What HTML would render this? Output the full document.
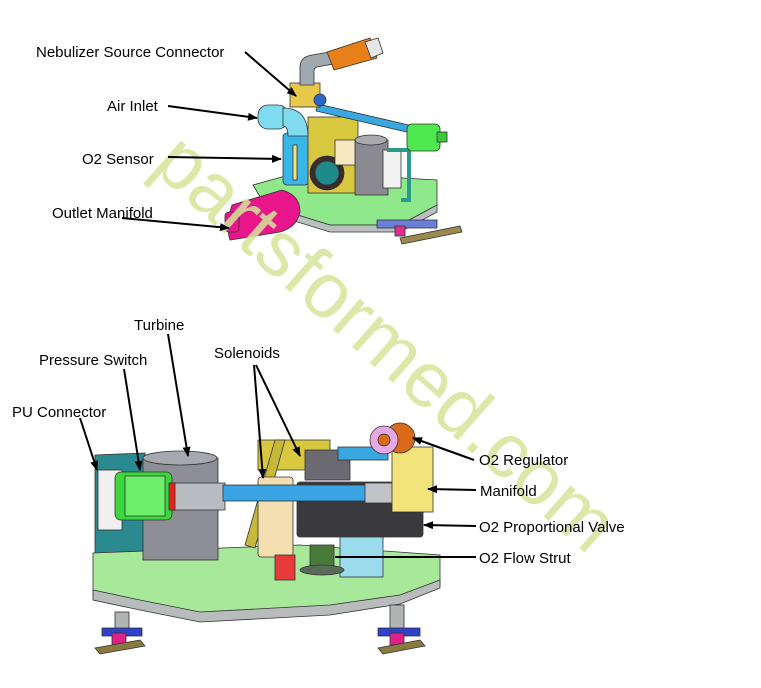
<!DOCTYPE html>
<html><head><meta charset="utf-8"><style>
html,body{margin:0;padding:0;background:#fff;width:761px;height:688px;overflow:hidden}
svg{display:block}
text{font-family:"Liberation Sans",Arial,sans-serif;font-size:15px;fill:#000}
</style></head><body>
<svg width="761" height="688" viewBox="0 0 761 688" xmlns="http://www.w3.org/2000/svg">
<defs>
<marker id="a" markerWidth="10" markerHeight="8" refX="9" refY="4" orient="auto" markerUnits="userSpaceOnUse">
<path d="M0,0 L10,4 L0,8 z" fill="#000"/></marker>
</defs>
<rect width="761" height="688" fill="#fff"/>

<!-- TOP ASSEMBLY -->
<g stroke="#333" stroke-width="0.8">
<polygon points="253,185 300,172 437,180 437,205 400,225 330,225 265,205" fill="#8fe88a"/>
<polygon points="265,205 330,225 400,225 437,205 437,212 400,232 330,232 265,212" fill="#b9c0c0"/>
<rect x="377" y="220" width="60" height="8" fill="#6b7fd8"/>
<rect x="395" y="226" width="10" height="10" fill="#e0308a"/>
<polygon points="400,238 460,226 462,232 402,244" fill="#9a8a50"/>
<rect x="283" y="133" width="26" height="52" rx="4" fill="#39b5e8"/>
<rect x="293" y="145" width="4" height="35" fill="#f3e37a"/>
<rect x="308" y="117" width="50" height="76" fill="#d8c840"/>
<circle cx="327" cy="173" r="17" fill="#3a2a2a"/>
<circle cx="327" cy="173" r="12" fill="#1f8a8a"/>
<rect x="355" y="140" width="33" height="55" fill="#8a8a90"/>
<ellipse cx="371" cy="140" rx="16" ry="5" fill="#aaaab0"/>
<rect x="383" y="150" width="18" height="38" fill="#f2f2f2"/>
<path d="M387,150 h22 v50 h-8" fill="none" stroke="#2a9a8a" stroke-width="4"/>
<rect x="335" y="140" width="20" height="25" fill="#f6e8c0"/>
<rect x="258" y="105" width="30" height="24" rx="10" fill="#7fdcf0"/>
<path d="M283,108 q25,0 25,28 l-20,0 q0,-10 -5,-10z" fill="#7fdcf0"/>
<polygon points="318,104 413,126 411,133 316,111" fill="#3aa8e0"/>
<rect x="407" y="124" width="33" height="27" rx="5" fill="#4fe84f"/>
<rect x="437" y="132" width="10" height="10" fill="#3cc83c"/>
<rect x="290" y="83" width="30" height="24" fill="#e8c84a"/>
<circle cx="320" cy="100" r="6" fill="#2a66c8"/>
<path d="M300,85 v-18 q0,-10 12,-12 l18,-3 l3,12 l-16,3 q-3,1 -3,4 v14z" fill="#a0a8b0"/>
<polygon points="327,52 370,38 377,58 334,70" fill="#e8801a"/>
<polygon points="365,42 378,38 383,53 371,58" fill="#e6e6e6"/>
<path d="M232,205 l50,-15 q18,5 18,22 q-3,15 -20,20 l-50,8 q-5,-15 2,-35z" fill="#e8168a"/>
<rect x="225" y="212" width="14" height="20" rx="4" fill="#e8168a"/>
</g>

<!-- BOTTOM ASSEMBLY -->
<g stroke="#333" stroke-width="0.8">
<polygon points="95,455 145,453 145,558 95,558" fill="#2a8a8f"/>
<rect x="98" y="470" width="24" height="60" fill="#f0f0f0"/>
<polygon points="93,553 300,545 440,555 440,585 400,600 330,610 200,617 140,605 93,595" fill="#a8e89a"/>
<polygon points="93,590 140,600 200,612 330,605 400,595 440,580 440,588 400,604 330,615 200,622 140,610 93,600" fill="#b8bcbc"/>
<rect x="143" y="458" width="75" height="102" fill="#8e8e96"/>
<ellipse cx="180" cy="458" rx="37" ry="7" fill="#a8a8b0"/>
<polygon points="258,440 330,440 330,470 258,470" fill="#d8c840"/>
<polygon points="245,545 275,440 285,440 255,548" fill="#c8b838"/>
<rect x="258" y="477" width="35" height="80" rx="3" fill="#f3dfb0"/>
<rect x="340" y="525" width="43" height="52" fill="#9adcec"/>
<rect x="310" y="545" width="24" height="22" fill="#4a7a3a"/>
<ellipse cx="322" cy="570" rx="22" ry="5" fill="#5a6a58"/>
<rect x="275" y="555" width="20" height="25" fill="#e83a3a"/>
<rect x="297" y="482" width="126" height="55" rx="3" fill="#3a3a3e"/>
<rect x="305" y="450" width="45" height="30" fill="#6a6a70"/>
<rect x="338" y="447" width="50" height="13" fill="#3aa8e0"/>
<rect x="115" y="472" width="57" height="48" rx="6" fill="#3ad83a"/>
<rect x="125" y="476" width="40" height="40" fill="#6cf06c"/>
<rect x="170" y="483" width="55" height="27" fill="#b8bcc0"/>
<rect x="169" y="483" width="6" height="27" fill="#e8201a"/>
<rect x="223" y="485" width="150" height="16" fill="#3aa4e4"/>
<rect x="365" y="483" width="30" height="20" fill="#c0c4c8"/>
<rect x="392" y="447" width="41" height="65" fill="#f2e47a"/>
<circle cx="400" cy="438" r="15" fill="#d86a1a"/>
<circle cx="384" cy="440" r="14" fill="#e8a8e8"/>
<circle cx="384" cy="440" r="6" fill="#d86a1a"/>
<rect x="115" y="612" width="14" height="18" fill="#b0b4b4"/>
<rect x="390" y="605" width="14" height="25" fill="#b0b4b4"/>
<rect x="102" y="628" width="40" height="8" fill="#3040c8"/>
<rect x="112" y="633" width="14" height="12" fill="#e0208a"/>
<polygon points="95,648 140,640 145,646 100,654" fill="#8a7a40"/>
<rect x="378" y="628" width="42" height="8" fill="#3040c8"/>
<rect x="390" y="633" width="14" height="12" fill="#e0208a"/>
<polygon points="378,648 420,640 425,646 383,654" fill="#8a7a40"/>
</g>

<!-- Watermark -->
<text transform="translate(150,168) rotate(41.5)" style="font-size:78px;fill:#d6e59a;opacity:0.85">partsformed.com</text>

<!-- Labels & arrows -->
<g stroke="#000" stroke-width="2" fill="none">
<line x1="245" y1="52" x2="296" y2="96" marker-end="url(#a)"/>
<line x1="168" y1="106" x2="257" y2="118" marker-end="url(#a)"/>
<line x1="168" y1="157" x2="281" y2="159" marker-end="url(#a)"/>
<line x1="122" y1="218" x2="229" y2="228" marker-end="url(#a)"/>
<line x1="168" y1="334" x2="188" y2="456" marker-end="url(#a)"/>
<line x1="124" y1="369" x2="140" y2="470" marker-end="url(#a)"/>
<line x1="80" y1="418" x2="97" y2="470" marker-end="url(#a)"/>
<line x1="254" y1="365" x2="263" y2="478" marker-end="url(#a)"/>
<line x1="256" y1="365" x2="300" y2="456" marker-end="url(#a)"/>
<line x1="474" y1="460" x2="413" y2="438" marker-end="url(#a)"/>
<line x1="476" y1="490" x2="428" y2="489" marker-end="url(#a)"/>
<line x1="476" y1="526" x2="424" y2="525" marker-end="url(#a)"/>
<line x1="476" y1="557" x2="335" y2="557"/>
</g>
<text x="36" y="57">Nebulizer Source Connector</text>
<text x="107" y="111">Air Inlet</text>
<text x="82" y="164">O2 Sensor</text>
<text x="52" y="218">Outlet Manifold</text>
<text x="134" y="330">Turbine</text>
<text x="39" y="365">Pressure Switch</text>
<text x="214" y="358">Solenoids</text>
<text x="12" y="417">PU Connector</text>
<text x="479" y="465">O2 Regulator</text>
<text x="480" y="496">Manifold</text>
<text x="479" y="532">O2 Proportional Valve</text>
<text x="479" y="563">O2 Flow Strut</text>
</svg>
</body></html>
